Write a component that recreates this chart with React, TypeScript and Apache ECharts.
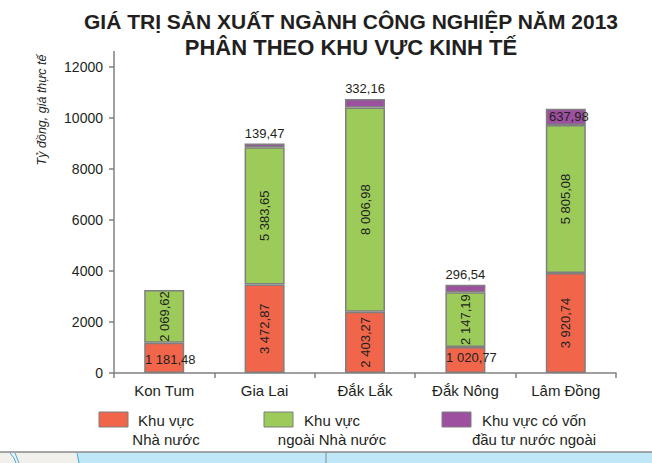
import React, { useEffect, useRef } from "react";
import * as echarts from "echarts";

const titleLines = [
  "GIÁ TRỊ SẢN XUẤT NGÀNH CÔNG NGHIỆP NĂM 2013",
  "PHÂN THEO KHU VỰC KINH TẾ",
];
const yAxisName = "Tỷ đồng, giá thực tế";
const categories = ["Kon Tum", "Gia Lai", "Đắk Lắk", "Đắk Nông", "Lâm Đồng"];
const stateSector = [1181.48, 3472.87, 2403.27, 1020.77, 3920.74];
const nonStateSector = [2069.62, 5383.65, 8006.98, 2147.19, 5805.08];
const foreignSector: (number | null)[] = [null, 139.47, 332.16, 296.54, 637.98];
const seriesNames = [
  "Khu vực Nhà nước",
  "Khu vực ngoài Nhà nước",
  "Khu vực có vốn đầu tư nước ngoài",
];
const legendLines = [
  ["Khu vực", "Nhà nước"],
  ["Khu vực", "ngoài Nhà nước"],
  ["Khu vực có vốn", "đầu tư nước ngoài"],
];
const yMin = 0;
const yMax = 12000;
const yInterval = 2000;

const COLORS = ["#f1664b", "#9ccb5a", "#9d50a0"];
const BORDER = "#7f7f7f";
const TEXT = "#231f20";
const FONT = "Liberation Sans, Arial, sans-serif";

function fmt(v: number): string {
  const [i, d] = v.toFixed(2).split(".");
  const withSpaces = i.replace(/\B(?=(\d{3})+(?!\d))/g, " ");
  return withSpaces + "," + d;
}

export default function App() {
  const ref = useRef<HTMLDivElement>(null);

  useEffect(() => {
    if (!ref.current) return;
    const chart = echarts.init(ref.current, null, { renderer: "svg" });

    const labelBase = {
      show: true,
      color: TEXT,
      fontSize: 13,
      fontFamily: FONT,
      formatter: (p: any) => (p.value == null ? "" : fmt(p.value)),
    };

    const stateData = stateSector.map((v, i) => {
      if (i === 0) return { value: v, label: { rotate: 0, offset: [6, 2] } };
      if (i === 3) return { value: v, label: { rotate: 0, offset: [6, -2] } };
      return { value: v };
    });
    const nonStateData = nonStateSector.map((v) => ({ value: v }));
    const foreignData = foreignSector.map((v, i) => {
      if (i === 4)
        return { value: v, label: { position: "inside", offset: [3, 0] } };
      return { value: v };
    });

    const itemStyle = (c: string) => ({
      color: c,
      borderColor: BORDER,
      borderWidth: 1.5,
    });

    const graphics: any[] = [];
    titleLines.forEach((t, i) => {
      graphics.push({
        type: "text",
        x: 351,
        y: 21 + i * 26,
        style: {
          text: t,
          fill: TEXT,
          font: `bold ${i === 0 ? 21 : 22}px ${FONT}`,
          textAlign: "center",
          textVerticalAlign: "middle",
        },
      });
    });
    graphics.push({
      type: "text",
      x: 42,
      y: 110,
      rotation: Math.PI / 2,
      style: {
        text: yAxisName,
        fill: TEXT,
        font: `italic 12.5px ${FONT}`,
        textAlign: "center",
        textVerticalAlign: "middle",
      },
    });
    graphics.push({
      type: "line",
      shape: { x1: 114, y1: 51, x2: 114, y2: 67 },
      style: { stroke: "#808080", lineWidth: 1.5 },
    });
    const legendRectX = [99, 264, 442];
    const legendTextX = [166, 332, 534];
    legendLines.forEach((lines, i) => {
      graphics.push({
        type: "rect",
        shape: { x: legendRectX[i], y: 412, width: 29, height: 15 },
        style: { fill: COLORS[i], stroke: BORDER, lineWidth: 1 },
      });
      lines.forEach((ln, j) => {
        graphics.push({
          type: "text",
          x: legendTextX[i],
          y: 420 + j * 19,
          style: {
            text: ln,
            fill: TEXT,
            font: `15px ${FONT}`,
            textAlign: "center",
            textVerticalAlign: "middle",
          },
        });
      });
    });
    graphics.push({
      type: "rect",
      shape: { x: 0, y: 452, width: 78, height: 11 },
      style: { fill: "#f1f0eb" },
    });
    graphics.push({
      type: "rect",
      shape: { x: 78, y: 452, width: 574, height: 11 },
      style: { fill: "#bfe7f8" },
    });
    graphics.push({
      type: "polyline",
      shape: { points: [[10, 453], [14, 458], [16, 463]] },
      style: { stroke: "#4aa8dc", lineWidth: 1, fill: "none" },
    });
    graphics.push({
      type: "polyline",
      shape: { points: [[15, 453], [19, 463]] },
      style: { stroke: "#4aa8dc", lineWidth: 1, fill: "none" },
    });
    graphics.push({
      type: "line",
      shape: { x1: 77, y1: 453, x2: 79, y2: 463 },
      style: { stroke: "#4aa8dc", lineWidth: 1 },
    });
    graphics.push({
      type: "line",
      shape: { x1: 326, y1: 452, x2: 326, y2: 463 },
      style: { stroke: "#8a8a8a", lineWidth: 1 },
    });
    graphics.push({
      type: "line",
      shape: { x1: 0, y1: 452, x2: 652, y2: 452 },
      style: { stroke: "#8a8a8a", lineWidth: 1.5 },
    });

    chart.setOption({
      animation: false,
      backgroundColor: "#ffffff",
      textStyle: { fontFamily: FONT },
      grid: { left: 114, top: 67, width: 502, height: 306 },
      xAxis: {
        type: "category",
        data: categories,
        axisLine: { lineStyle: { color: "#808080", width: 1.5 } },
        axisTick: { show: true, length: 5, lineStyle: { color: "#808080", width: 1.5 } },
        axisLabel: { color: TEXT, fontSize: 15, fontFamily: FONT, margin: 10 },
      },
      yAxis: {
        type: "value",
        min: yMin,
        max: yMax,
        interval: yInterval,
        splitLine: { show: false },
        axisLine: { show: true, lineStyle: { color: "#808080", width: 1.5 } },
        axisTick: { show: true, length: 5, lineStyle: { color: "#808080", width: 1.5 } },
        axisLabel: {
          color: TEXT,
          fontSize: 14,
          fontFamily: FONT,
          margin: 11,
          formatter: (v: number) => String(v),
        },
      },
      series: [
        {
          name: seriesNames[0],
          type: "bar",
          stack: "total",
          barWidth: 40,
          data: stateData,
          itemStyle: itemStyle(COLORS[0]),
          label: { ...labelBase, position: "inside", rotate: 90 },
        },
        {
          name: seriesNames[1],
          type: "bar",
          stack: "total",
          barWidth: 40,
          data: nonStateData,
          itemStyle: itemStyle(COLORS[1]),
          label: { ...labelBase, position: "inside", rotate: 90 },
        },
        {
          name: seriesNames[2],
          type: "bar",
          stack: "total",
          barWidth: 40,
          data: foreignData,
          itemStyle: itemStyle(COLORS[2]),
          label: { ...labelBase, position: "top", distance: 4 },
        },
      ],
      graphic: graphics,
    });

    return () => chart.dispose();
  }, []);

  return (
    <div
      ref={ref}
      style={{ position: "absolute", left: 0, top: 0, width: 652, height: 463 }}
    />
  );
}
